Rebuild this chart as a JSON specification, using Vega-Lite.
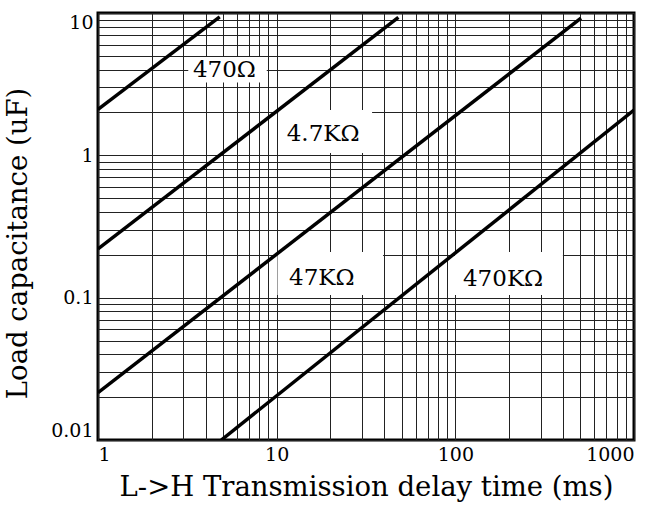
{
  "$schema": "https://vega.github.io/schema/vega-lite/v6.json",
  "width": 536,
  "height": 427,
  "autosize": {"type": "none"},
  "padding": {"left": 98, "top": 13, "right": 19, "bottom": 68},
  "background": "white",
  "config": {
    "view": {"stroke": "black", "strokeWidth": 3},
    "font": "DejaVu Serif",
    "axis": {
      "grid": true,
      "gridColor": "#222222",
      "gridWidth": 1,
      "ticks": false,
      "domain": false,
      "labelFont": "DejaVu Serif",
      "labelFontSize": 19,
      "labelColor": "black",
      "labelOverlap": false,
      "labelBound": false,
      "labelFlush": true,
      "titleFont": "DejaVu Serif",
      "titleFontSize": 27.5,
      "titleFontWeight": "normal",
      "titleColor": "black"
    }
  },
  "datasets": {
    "curves": [
      {"series": "470", "t": 1, "c": 2.1},
      {"series": "470", "t": 4.8, "c": 9.4},
      {"series": "4.7K", "t": 1, "c": 0.22},
      {"series": "4.7K", "t": 48, "c": 9.3},
      {"series": "47K", "t": 1, "c": 0.0215},
      {"series": "47K", "t": 505, "c": 9.2},
      {"series": "470K", "t": 4.9, "c": 0.01},
      {"series": "470K", "t": 1000, "c": 2.08}
    ],
    "labels": [
      {"label": "470Ω", "t": 5.1, "c": 3.95, "t1": 3.2, "t2": 8.8, "c1": 3.25, "c2": 4.9},
      {"label": "4.7KΩ", "t": 18.2, "c": 1.42, "t1": 10.2, "t2": 34.2, "c1": 1.04, "c2": 2.08},
      {"label": "47KΩ", "t": 17.9, "c": 0.138, "t1": 10.1, "t2": 39.4, "c1": 0.1045, "c2": 0.2095},
      {"label": "470KΩ", "t": 185, "c": 0.135, "t1": 99.5, "t2": 400, "c1": 0.1045, "c2": 0.2095}
    ]
  },
  "layer": [
    {
      "data": {"name": "labels"},
      "mark": {"type": "rect", "color": "white", "opacity": 1},
      "encoding": {
        "x": {
          "field": "t1",
          "type": "quantitative",
          "scale": {"type": "log", "domain": [1, 1000], "nice": false},
          "axis": {
            "values": [1,2,3,4,5,6,7,8,9,10,20,30,40,50,60,70,80,90,100,200,300,400,500,600,700,800,900,1000],
            "labelExpr": "datum.value == 1 ? '1' : datum.value == 10 ? '10' : datum.value == 100 ? '100' : datum.value == 1000 ? '1000' : ''",
            "labelPadding": 5,
            "title": "L->H Transmission delay time (ms)",
            "titlePadding": 9
          }
        },
        "x2": {"field": "t2"},
        "y": {
          "field": "c1",
          "type": "quantitative",
          "scale": {"type": "log", "domain": [0.01, 10], "nice": false},
          "axis": {
            "values": [0.01,0.02,0.03,0.04,0.05,0.06,0.07,0.08,0.09,0.1,0.2,0.3,0.4,0.5,0.6,0.7,0.8,0.9,1,2,3,4,5,6,7,8,9,10],
            "labelExpr": "datum.value == 0.01 ? '0.01' : datum.value == 0.1 ? '0.1' : datum.value == 1 ? '1' : datum.value == 10 ? '10' : ''",
            "labelPadding": 5,
            "title": "Load capacitance (uF)",
            "titlePadding": 18,
            "titleY": 230
          }
        },
        "y2": {"field": "c2"}
      }
    },
    {
      "data": {"name": "curves"},
      "mark": {"type": "line", "color": "black", "strokeWidth": 3.5, "clip": true},
      "encoding": {
        "x": {"field": "t", "type": "quantitative"},
        "y": {"field": "c", "type": "quantitative"},
        "detail": {"field": "series"}
      }
    },
    {
      "data": {"name": "labels"},
      "mark": {"type": "text", "font": "DejaVu Serif", "fontSize": 23, "color": "black", "align": "center", "baseline": "middle"},
      "encoding": {
        "x": {"field": "t", "type": "quantitative"},
        "y": {"field": "c", "type": "quantitative"},
        "text": {"field": "label"}
      }
    }
  ]
}
